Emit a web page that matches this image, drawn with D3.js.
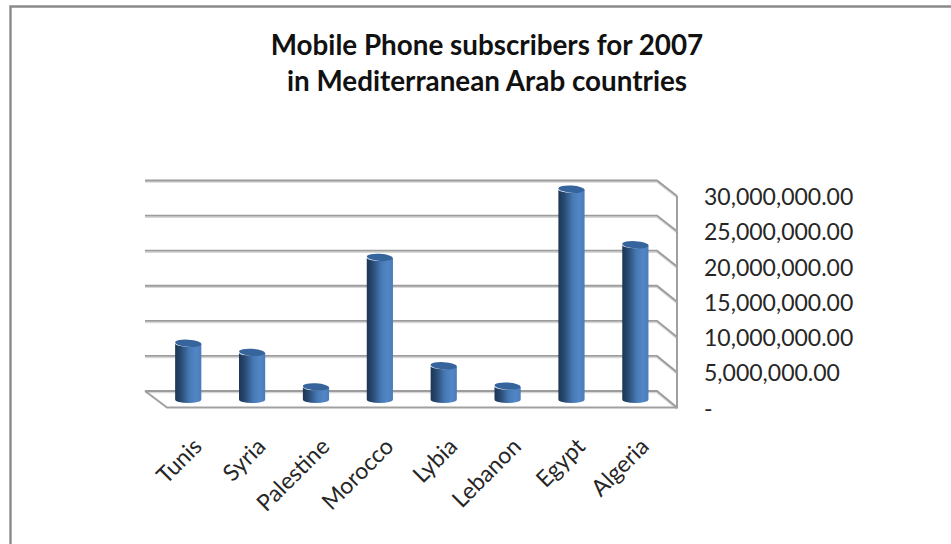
<!DOCTYPE html>
<html>
<head>
<meta charset="utf-8">
<script src="https://cdn.jsdelivr.net/npm/d3@7"></script>
<style>
  html, body { margin: 0; padding: 0; background: #fff; }
  svg { display: block; }
  text { font-family: Lato, "Open Sans", sans-serif; fill: #262626; }
</style>
</head>
<body>
<svg id="chart" width="951" height="544"></svg>
<script>
const titleLines = ["Mobile Phone subscribers for 2007", "in Mediterranean Arab countries"];
const categories = ["Tunis", "Syria", "Palestine", "Morocco", "Lybia", "Lebanon", "Egypt", "Algeria"];
const subscribers = [8000000, 6700000, 1800000, 20200000, 4800000, 1900000, 29900000, 22000000];
const tickValues = [0, 5000000, 10000000, 15000000, 20000000, 25000000, 30000000];

const svg = d3.select("#chart");
const defs = svg.append("defs");

// Horizontal shading that gives each column its rounded look
const shade = defs.append("linearGradient").attr("id", "cyl").attr("x1", 0).attr("x2", 1).attr("y1", 0).attr("y2", 0);
[[0, "#1d3552"], [0.22, "#274a73"], [0.55, "#477ab4"], [0.8, "#5286c6"], [1, "#4a7cb8"]]
  .forEach(([o, c]) => shade.append("stop").attr("offset", o).attr("stop-color", c));

// Outer frame: top and left edges only
svg.append("path").attr("d", "M10.5,544V6.5H951").attr("fill", "none").attr("stroke", "#8a8a8a").attr("stroke-width", 2.4);

// Title
svg.append("g").selectAll("text").data(titleLines).join("text")
  .attr("x", 487).attr("y", (d, i) => 55 + i * 36)
  .attr("text-anchor", "middle").attr("font-size", 27.8).attr("font-weight", 700)
  .style("fill", "#111").text(d => d);

// Three scales: back wall, front edge (carries the labels), and column plane
const yBack = d3.scaleLinear().domain([0, 30000000]).range([391, 180.5]);
const yFront = d3.scaleLinear().domain([0, 30000000]).range([407.5, 196]);
const yCol = d3.scaleLinear().domain([0, 30000000]).range([399.5, 188.5]);
const x = d3.scaleBand().domain(categories).range([156.3, 667.3]).paddingInner(0.59).paddingOuter(0.295);

const backLeft = 145, backRight = 657, frontLeft = 167, frontRight = 677;

const grid = svg.append("g").attr("fill", "none");

// Soft highlight beneath every wall line
grid.selectAll("path.glow").data(tickValues).join("path").attr("class", "glow")
  .attr("d", d => `M${backLeft},${yBack(d) + 1.6}H${backRight}L${frontRight},${yFront(d) + 1.6}`)
  .attr("stroke", "#d8d8d8").attr("stroke-width", 1.5);
grid.selectAll("path.line").data(tickValues).join("path").attr("class", "line")
  .attr("d", d => `M${backLeft},${yBack(d)}H${backRight}L${frontRight},${yFront(d)}`)
  .attr("stroke", "#9c9c9c").attr("stroke-width", 1.9);

// Floor edges and the right-hand wall edge
grid.append("path")
  .attr("d", `M${backLeft},${yBack(0)}L${frontLeft},${yFront(0)}H${frontRight}V${yFront(30000000)}`)
  .attr("stroke", "#a0a0a0").attr("stroke-width", 2);

// Columns
const rx = x.bandwidth() / 2, ry = 3.6;
const cols = svg.append("g").selectAll("g").data(categories).join("g")
  .attr("transform", d => `translate(${x(d) + rx},0)`);
cols.append("path")
  .attr("d", (d, i) => {
    const top = yCol(subscribers[i]), base = yCol(0);
    return `M${-rx},${top}V${base}A${rx},${ry} 0 0 0 ${rx},${base}V${top}A${rx},${ry} 0 0 1 ${-rx},${top}Z`;
  })
  .attr("fill", "url(#cyl)");
cols.append("ellipse")
  .attr("cx", 0).attr("cy", (d, i) => yCol(subscribers[i]))
  .attr("rx", rx).attr("ry", ry)
  .attr("transform", (d, i) => `rotate(4 0 ${yCol(subscribers[i])})`)
  .attr("fill", "#35659c");

// Value labels, set against the front edge of the side wall
const fmt = d3.format(",.2f");
svg.append("g").selectAll("text").data(tickValues).join("text")
  .attr("x", 704)
  .attr("y", d => yFront(d) + 9)
  .attr("font-size", 23)
  .text(d => d === 0 ? "-" : fmt(d));

// Category labels, rotated
svg.append("g").selectAll("text").data(categories).join("text")
  .attr("transform", d => `translate(${x(d) + rx + 15},${448}) rotate(-45)`)
  .attr("text-anchor", "end")
  .attr("font-size", 23)
  .text(d => d);
</script>
</body>
</html>
